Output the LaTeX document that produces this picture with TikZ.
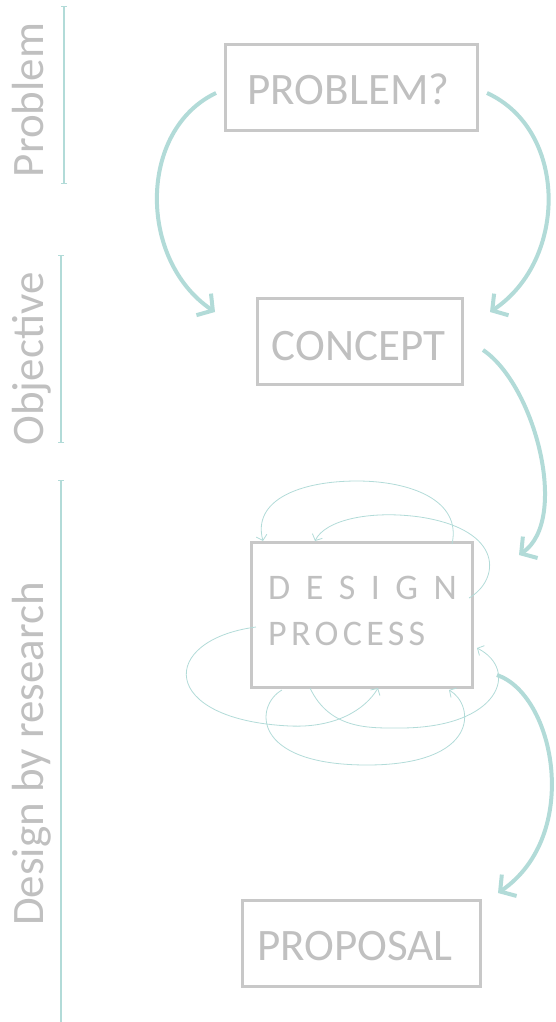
\documentclass[tikz,border=0pt]{standalone}
\usepackage{fontspec}
\setmainfont{Carlito}
\newfontfamily\dpfont[LetterSpace=12]{Carlito}
\usetikzlibrary{arrows.meta}
\definecolor{tealc}{RGB}{178,219,216}
\definecolor{boxgray}{RGB}{200,200,200}
\definecolor{txtgray}{RGB}{192,192,192}
\tikzset{
  box/.style 2 args={draw=boxgray, line width=3pt, inner sep=0pt, outer sep=0pt,
    minimum width=#1, minimum height=#2},
  boxtext/.style={text=txtgray, inner sep=0pt, font=\fontsize{45}{50}\selectfont},
  dptext/.style={text=txtgray, inner sep=0pt, font=\dpfont\fontsize{36}{40}\selectfont},
  sidetext/.style={text=txtgray, inner sep=0pt, rotate=90, anchor=base, font=\fontsize{45}{50}\selectfont},
  bigarrow/.style={draw=tealc, line width=4pt, -{Straight Barb[length=11pt,width=26pt]}},
  loop/.style={draw=tealc, line width=0.8pt, -{Straight Barb[length=5pt,width=11pt]}},
  sideline/.style={draw=tealc, line width=1.2pt}
}
\begin{document}
\begin{tikzpicture}[x=1pt,y=-1pt]
\useasboundingbox (0,0) rectangle (556,1022);

% side labels
\node[sidetext] (lp) at (43,100) {Problem};
\node[sidetext] (lo) at (43,359) {Objective};
\node[sidetext] (ld) at (43,754) {Design by research};
\draw[sideline, {Bar[width=6pt]}-{Bar[width=6pt]}] (64,6) -- (64,184);
\draw[sideline, {Bar[width=6pt]}-{Bar[width=6pt]}] (61,255) -- (61,443);
\draw[sideline, {Bar[width=6pt]}-] (61,480) -- (61,1022);

% boxes
\node[box={252pt}{86pt}] (p) at (351,88) {};
\node[box={205pt}{86pt}] (c) at (359.5,341) {};
\node[box={221pt}{145pt}] (d) at (361.5,614.5) {};
\node[box={238pt}{86pt}] (r) at (361,943) {};

% box texts
\node[boxtext, anchor=base] (pt) at (348.5,105) {PROBLEM?};
\node[boxtext, anchor=base] (ct) at (358.5,360) {CONCEPT};
\node[boxtext, anchor=base] (rt) at (355,960) {PROPOSAL};
\node[dptext, anchor=base west] (dt1) at (268,599) {\spaceskip=15.5pt D E S I G N};
\node[dptext, anchor=base west] (dt2) at (268,645) {PROCESS};

% big arrows
\draw[bigarrow] ([shift={(-9,5)}]p.west) .. controls (138,130) and (138,260) .. ([shift={(-42,-29)}]c.west);
\draw[bigarrow] ([shift={(10,5)}]p.east) .. controls (568,130) and (568,260) .. ([shift={(28,-29)}]c.east);
\draw[bigarrow] ([shift={(21,9)}]c.east) .. controls (535,385) and (570,520) .. ([shift={(47,-59.5)}]d.east);
\draw[bigarrow] ([shift={(25,60.5)}]d.east) .. controls (555,695) and (582,835) .. ([shift={(18,-7)}]r.north east);

% design-process loops
\draw[loop] ([shift={(-20,2)}]d.north east) .. controls (462,500) and (410,481) .. (357,481)
  .. controls (300,481) and (252,500) .. ([shift={(12,-1)}]d.north west);
\draw[loop] ([shift={(-3,56)}]d.north east) .. controls (500,580) and (505,530) .. (420,517)
  .. controls (370,510) and (325,520) .. ([shift={(64,-1)}]d.north west);
\draw[loop] ([shift={(5,85)}]d.north west) .. controls (158,640) and (158,720) .. (290,726)
  .. controls (335,728) and (365,710) .. ([shift={(127,1)}]d.south west);
\draw[loop] ([shift={(31,3)}]d.south west) .. controls (255,705) and (250,765) .. (367,765)
  .. controls (480,765) and (475,705) .. ([shift={(-23,3)}]d.south east);
\draw[loop] ([shift={(59,1)}]d.south west) .. controls (330,730) and (370,728) .. (400,728)
  .. controls (500,728) and (520,670) .. ([shift={(5,-39)}]d.south east);
\end{tikzpicture}
\end{document}
